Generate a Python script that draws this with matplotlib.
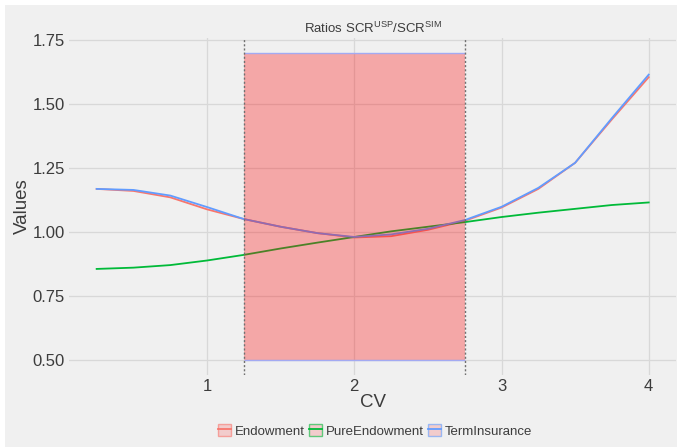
import matplotlib
matplotlib.use("Agg")
import matplotlib.pyplot as plt
from matplotlib.patches import Patch, Rectangle
from matplotlib.lines import Line2D

plt.rcParams["font.family"] = ["Liberation Sans", "DejaVu Sans"]
plt.rcParams["mathtext.fontset"] = "custom"
plt.rcParams["mathtext.rm"] = "Liberation Sans"

# data
cv = [0.25, 0.5, 0.75, 1.0, 1.25, 1.5, 1.75, 2.0, 2.25, 2.5, 2.75, 3.0, 3.25, 3.5, 3.75, 4.0]
endowment = [1.168, 1.160, 1.135, 1.088, 1.050, 1.020, 0.995, 0.978, 0.983, 1.008, 1.043, 1.095, 1.168, 1.270, 1.440, 1.605]
pure_endowment = [0.855, 0.860, 0.870, 0.888, 0.910, 0.935, 0.958, 0.980, 1.002, 1.020, 1.038, 1.058, 1.075, 1.090, 1.105, 1.115]
term_insurance = [1.168, 1.164, 1.142, 1.097, 1.050, 1.020, 0.995, 0.980, 0.990, 1.012, 1.046, 1.098, 1.172, 1.270, 1.445, 1.615]
band_x = [1.25, 2.75]
band_y = [0.5, 1.7]

series = [("Endowment", endowment, "#F8766D"),
          ("PureEndowment", pure_endowment, "#00BA38"),
          ("TermInsurance", term_insurance, "#619CFF")]

bg = "#f0f0f0"
fig = plt.figure(figsize=(6.77, 4.47), dpi=100, facecolor="white")
fig.patches.append(Rectangle((5 / 677, 0), 1, 1 - 5 / 447, transform=fig.transFigure,
                             facecolor=bg, edgecolor="none", zorder=-10))
ax = fig.add_axes([0.102, 0.161, 0.897, 0.755])
ax.set_facecolor(bg)

for name, vals, col in series:
    ax.plot(cv, vals, color=col, lw=1.3, zorder=2)

# shaded band drawn over the lines
ax.add_patch(Rectangle((band_x[0], band_y[0]), band_x[1] - band_x[0], band_y[1] - band_y[0],
                       facecolor=(1, 0, 0, 0.3), edgecolor="none", zorder=3))
ax.hlines(band_y, band_x[0], band_x[1], color="#a3aaf2", lw=1, zorder=3.5)
ax.axvline(band_x[0], color="#707070", ls=(0, (1.5, 1.5)), lw=1, zorder=4)
ax.axvline(band_x[1], color="#707070", ls=(0, (1.5, 1.5)), lw=1, zorder=4)

ax.set_xlim(0.0625, 4.1875)
ax.set_ylim(0.44, 1.76)
ax.set_xticks([1, 2, 3, 4])
ax.set_yticks([0.5, 0.75, 1.0, 1.25, 1.5, 1.75])
ax.set_yticklabels(["0.50", "0.75", "1.00", "1.25", "1.50", "1.75"])
ax.grid(True, color="#d8d8d8", lw=0.9, zorder=0)
ax.set_axisbelow(True)
for s in ax.spines.values():
    s.set_visible(False)
ax.tick_params(length=0, labelsize=12, colors="#3c3c3c", pad=3)
ax.set_xlabel("CV", fontsize=13.5, color="#3c3c3c", labelpad=0)
ax.set_ylabel("Values", fontsize=13.5, color="#3c3c3c", labelpad=1)
ax.set_title(r"Ratios SCR$^{\mathrm{USP}}$/SCR$^{\mathrm{SIM}}$", fontsize=9.5,
             color="#3c3c3c", pad=3)

handles = [(Patch(facecolor=(1, 0, 0, 0.15), edgecolor=col + "99", lw=1),
            Line2D([], [], color=col, lw=1.3)) for _, _, col in series]
labels = [name for name, _, _ in series]
fig.legend(handles, labels, loc="center", bbox_to_anchor=(0.554, 0.036), ncol=3,
           frameon=False, fontsize=9.5, handlelength=0.95, handleheight=1.0,
           handletextpad=0.3, columnspacing=0.35, labelcolor="#3c3c3c")

fig.savefig("out.png", dpi=100, facecolor=fig.get_facecolor())
